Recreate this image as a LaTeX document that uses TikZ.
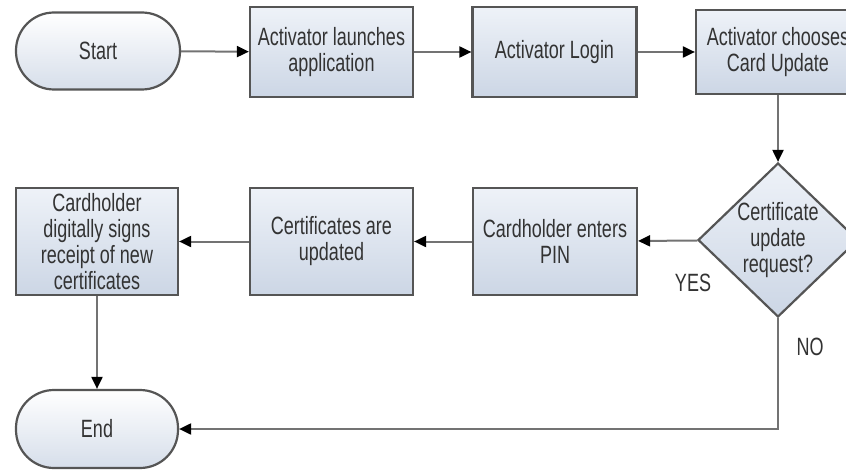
\documentclass[tikz,border=0pt]{standalone}
\usepackage{fontspec}
\setmainfont[FakeStretch=0.72]{Liberation Sans}
\usetikzlibrary{shapes.geometric,arrows.meta}
\definecolor{boxtop}{RGB}{238,242,248}
\definecolor{boxbot}{RGB}{204,214,229}
\definecolor{edge}{RGB}{85,85,85}
\definecolor{wire}{RGB}{115,115,115}
\begin{document}
\begin{tikzpicture}[x=1pt,y=-1pt,
    every node/.style={font=\fontsize{25}{26}\selectfont,text=black!80},
    proc/.style={draw=edge,line width=2.2pt,top color=boxtop,bottom color=boxbot,align=center,inner sep=0pt,minimum width=163pt,minimum height=90pt},
    term/.style={proc,rounded corners=38pt,minimum width=164pt,minimum height=77pt,top color=white,bottom color=boxbot!80!white},
    decide/.style={proc,shape=diamond,aspect=1.04,inner sep=-4pt,minimum width=160pt,minimum height=154pt},
    flow/.style={draw=wire,line width=2pt,-{Triangle[length=12pt,width=11pt,black]}}]
    \useasboundingbox (0,0) rectangle (846,476);
    \node[term] (start) at (98,51) {Start};
    \node[proc] (launch) at (331.5,52) {Activator launches\\application};
    \node[proc,minimum width=164pt] (login) at (554.5,52) {Activator Login};
    \node[proc,minimum width=164pt,minimum height=84pt] (choose) at (778,52) {Activator chooses\\Card Update};
    \node[decide] (ask) at (778,240) {Certificate\\update\\request?};
    \node[proc,minimum width=164pt,minimum height=107pt] (pin) at (555,241.5) {Cardholder enters\\PIN};
    \node[proc,minimum height=107pt] (updated) at (331.5,241.5) {Certificates are\\updated};
    \node[proc,minimum width=162pt,minimum height=107pt] (signs) at (97,241.5) {Cardholder\\digitally signs\\receipt of new\\certificates};
    \node[term,minimum width=162pt,minimum height=78pt] (end) at (97,429) {End};
    \node (yes) at (693,283) {YES};
    \node (no) at (810,347) {NO};
    \draw[flow] (start) -- (launch);
    \draw[flow] (launch) -- (login);
    \draw[flow] (login) -- (choose);
    \draw[flow] (choose) -- (ask);
    \draw[flow] (ask) -- (pin);
    \draw[flow] (pin) -- (updated);
    \draw[flow] (updated) -- (signs);
    \draw[flow] (signs) -- (end);
    \draw[flow] (ask.south) |- (end.east);
\end{tikzpicture}
\end{document}
